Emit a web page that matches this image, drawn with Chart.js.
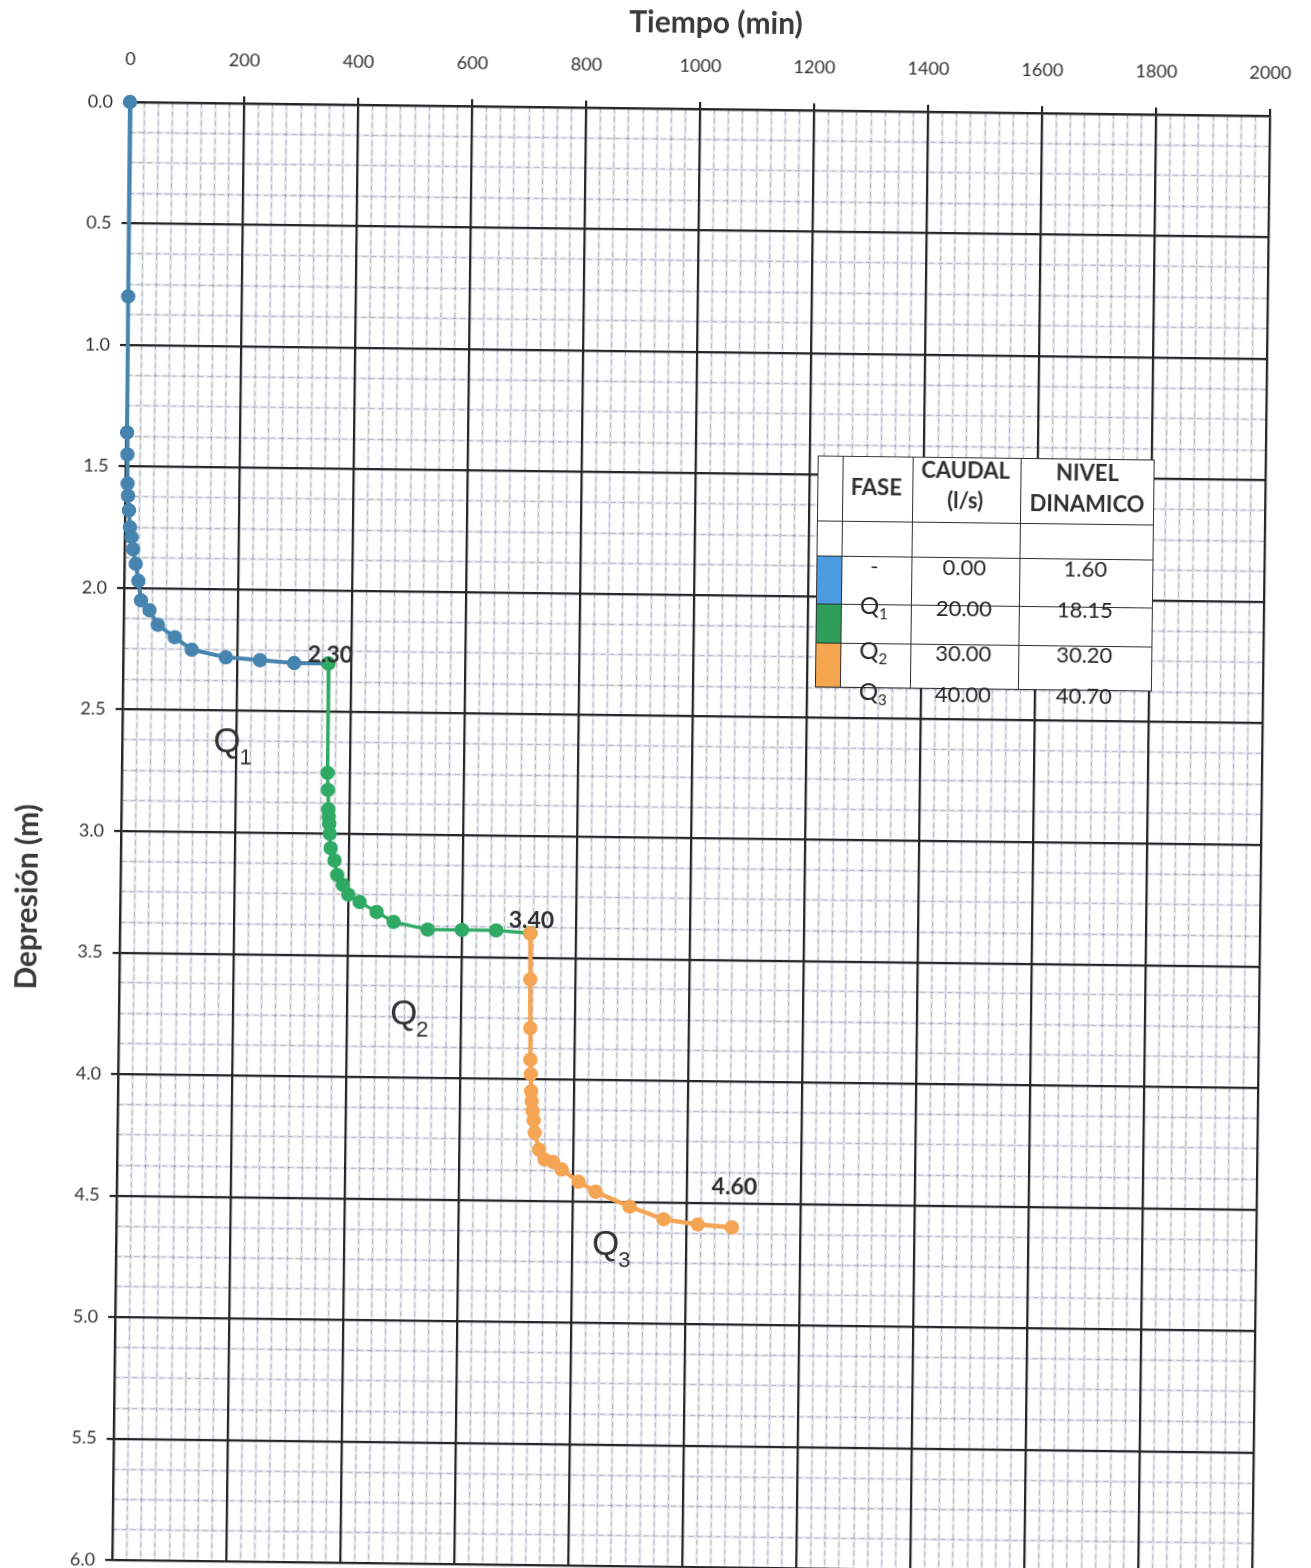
<!DOCTYPE html>
<html lang="es">
<head>
<meta charset="utf-8">
<title>Prueba de bombeo escalonada - Depresión vs Tiempo</title>
<script src="https://cdn.jsdelivr.net/npm/chart.js@4.4.1/dist/chart.umd.min.js"></script>
<style>
  html, body { margin: 0; padding: 0; background: #fff; overflow: hidden; }
  /* the sheet sits slightly tilted, as on the scanned graph paper */
  #hoja { position: relative; width: 1311px; height: 1568px; transform: rotate(0.7deg); transform-origin: 130px 102px; }
  #grafico { position: absolute; left: 0; top: 0; }
  #tabla { position: absolute; left: 822px; top: 447px; width: 337px; height: 232px; background: #fff;
           font-family: Lato, "Open Sans", sans-serif; color: #262626; }
  #tabla .lh { position: absolute; left: 0; width: 337px; height: 0; border-top: 1.6px solid #2f2f2f; }
  #tabla .lv { position: absolute; top: 0; height: 232px; width: 0; border-left: 1.6px solid #2f2f2f; }
  #tabla .txt { position: absolute; transform: translate(-50%, -50%); white-space: nowrap; font-size: 22px; line-height: 1; }
  #tabla .cab { font-weight: bold; color: #303030; }
  #tabla .sw { position: absolute; }
  #tabla .sub { font-size: 15px; vertical-align: -5px; }
</style>
</head>
<body>
<div id="hoja">
  <canvas id="grafico" width="1311" height="1568"></canvas>
  <div id="tabla"></div>
</div>
<script>
// ---- pumping-test readings: time (min) and drawdown (m) per phase ----
const tiempoQ1 = [0, 1, 2, 3, 4, 5, 7, 9, 12, 15, 20, 25, 30, 45, 60, 90, 120, 180, 240, 300, 360];
const depresionQ1 = [0.00, 0.80, 1.36, 1.45, 1.57, 1.62, 1.68, 1.75, 1.79, 1.84, 1.90, 1.97, 2.05, 2.09, 2.15, 2.20, 2.25, 2.28, 2.29, 2.30, 2.30];

const tiempoQ2 = [360, 361, 362, 363, 364, 365, 366, 368, 375, 380, 390, 400, 420, 450, 480, 540, 600, 660, 720];
const depresionQ2 = [2.30, 2.75, 2.82, 2.90, 2.93, 2.96, 3.00, 3.06, 3.11, 3.17, 3.21, 3.25, 3.28, 3.32, 3.36, 3.39, 3.39, 3.39, 3.40];

const tiempoQ3 = [720, 721, 722, 723, 724, 725, 726, 728, 730, 732, 740, 750, 765, 780, 810, 840, 900, 960, 1020, 1080];
const depresionQ3 = [3.40, 3.59, 3.79, 3.92, 3.98, 4.05, 4.09, 4.13, 4.17, 4.22, 4.29, 4.33, 4.34, 4.37, 4.42, 4.46, 4.52, 4.57, 4.59, 4.60];

// axis tick labels
const marcasTiempo = [0, 200, 400, 600, 800, 1000, 1200, 1400, 1600, 1800, 2000];
const marcasDepresion = [0, 0.5, 1.0, 1.5, 2.0, 2.5, 3.0, 3.5, 4.0, 4.5, 5.0, 5.5, 6.0];

// summary table
const fases = ['-', 'Q1', 'Q2', 'Q3'];
const caudales = [0.00, 20.00, 30.00, 40.00];
const nivelesDinamicos = [1.60, 18.15, 30.20, 40.70];

const tituloX = 'Tiempo (min)';
const tituloY = 'Depresión (m)';

// ---- styles ----
const colorQ1 = '#4684AF';
const colorQ2 = '#2FA963';
const colorQ3 = '#F4A452';
const coloresTabla = ['#4C9BE0', '#2F9E5A', '#F5A64E'];
const colorTexto = '#333333';
const colorMalla = '#262626';

Chart.defaults.font.family = 'Lato, "Open Sans", sans-serif';
Chart.defaults.color = colorTexto;

function puntos(t, d) {
  return t.map((v, i) => ({ x: v, y: d[i] }));
}

function serie(nombre, t, d, color, ancho, orden) {
  return {
    label: nombre,
    data: puntos(t, d),
    showLine: true,
    borderColor: color,
    backgroundColor: color,
    borderWidth: ancho,
    pointRadius: 6.6,
    pointHoverRadius: 6.6,
    pointBorderWidth: 1.2,
    pointBackgroundColor: color,
    pointBorderColor: color,
    tension: 0,
    clip: false,
    order: orden
  };
}

// keep the plot frame fixed: no extra room reserved for edge labels
function sinRelleno(s) {
  s.paddingLeft = 0; s.paddingRight = 0; s.paddingTop = 0; s.paddingBottom = 0;
}

// minor graph-paper rulings: a soft printed band plus a faint dashed line
function escalaMenor(eje, paso, capa, estilo) {
  const horizontal = eje === 'x';
  return {
    type: 'linear',
    position: horizontal ? 'top' : 'left',
    reverse: !horizontal,
    min: 0,
    max: horizontal ? 2000 : 6,
    display: true,
    ticks: { display: false, stepSize: paso },
    grid: Object.assign({ drawTicks: false, z: capa }, estilo.grid),
    border: Object.assign({ display: false }, estilo.border || {}),
    title: { display: false },
    afterFit: s => { if (horizontal) s.height = 0; else s.width = 0; sinRelleno(s); }
  };
}

const banda = { grid: { color: 'rgba(192,197,214,0.36)', lineWidth: 3 } };
const trazo = { grid: { color: 'rgba(80,80,85,0.3)', lineWidth: 1 }, border: { dash: [5, 4] } };

// labels drawn on the chart: final drawdown of each phase, phase names, axis titles
const rotulos = {
  id: 'rotulos',
  afterDatasetsDraw(chart, args, opts) {
    const { ctx } = chart;
    const xs = chart.scales.x, ys = chart.scales.y;
    ctx.save();
    ctx.fillStyle = '#2e2e2e';
    ctx.font = 'bold 23px Lato, sans-serif';
    ctx.textAlign = 'center';
    ctx.textBaseline = 'middle';
    chart.data.datasets.forEach((ds, i) => {
      const ultimo = ds.data[ds.data.length - 1];
      const d = opts.desplazamientos[i];
      ctx.fillText(ultimo.y.toFixed(2), xs.getPixelForValue(ultimo.x) + d[0], ys.getPixelForValue(ultimo.y) + d[1]);
    });
    ctx.fillStyle = '#333';
    ctx.textAlign = 'left';
    ctx.textBaseline = 'alphabetic';
    opts.nombres.forEach(n => {
      const px = xs.getPixelForValue(n.x), py = ys.getPixelForValue(n.y);
      ctx.font = '35px "Liberation Sans", Arial, sans-serif';
      ctx.fillText('Q', px, py);
      const w = ctx.measureText('Q').width;
      ctx.font = '22px "Liberation Sans", Arial, sans-serif';
      ctx.fillText(n.sub, px + w - 1, py + 12);
    });
    ctx.restore();
  },
  afterDraw(chart) {
    const { ctx, chartArea } = chart;
    ctx.save();
    ctx.fillStyle = '#3a3a3a';
    ctx.font = 'bold 30px Lato, sans-serif';
    ctx.textAlign = 'center';
    ctx.textBaseline = 'middle';
    ctx.fillText(tituloX, chartArea.left + 585, chartArea.top - 86);
    ctx.translate(chartArea.left - 93, chartArea.top + 796);
    ctx.rotate(-Math.PI / 2);
    ctx.fillText(tituloY, 0, 0);
    ctx.restore();
  }
};

new Chart(document.getElementById('grafico'), {
  type: 'scatter',
  data: {
    datasets: [
      serie('Q1', tiempoQ1, depresionQ1, colorQ1, 4, 3),
      serie('Q2', tiempoQ2, depresionQ2, colorQ2, 3.4, 2),
      serie('Q3', tiempoQ3, depresionQ3, colorQ3, 4.4, 1)
    ]
  },
  options: {
    responsive: false,
    animation: false,
    devicePixelRatio: 1,
    layout: { padding: { left: 0, top: 0, right: 41, bottom: 7 } },
    plugins: {
      legend: { display: false },
      tooltip: { enabled: false },
      title: { display: false },
      rotulos: {
        desplazamientos: [[2, -8], [1, -13], [2, -40]],
        nombres: [
          { x: 160, y: 2.67, sub: '1' },
          { x: 476, y: 3.78, sub: '2' },
          { x: 835, y: 4.72, sub: '3' }
        ]
      }
    },
    scales: {
      xBanda: escalaMenor('x', 25, -4, banda),
      yBanda: escalaMenor('y', 0.125, -4, banda),
      xTrazo: escalaMenor('x', 25, -3, trazo),
      yTrazo: escalaMenor('y', 0.125, -3, trazo),
      x: {
        type: 'linear',
        position: 'top',
        min: 0,
        max: 2000,
        afterBuildTicks: s => { s.ticks = marcasTiempo.map(v => ({ value: v })); },
        afterFit: s => { s.height = 102; sinRelleno(s); },
        grid: { color: colorMalla, lineWidth: 2.2, tickLength: 7, drawTicks: true, z: -1 },
        border: { display: true, color: colorMalla, width: 2.2 },
        ticks: { padding: 25, color: colorTexto, font: { size: 18 }, maxRotation: 0, autoSkip: false, callback: v => String(v) },
        title: { display: false }
      },
      y: {
        type: 'linear',
        position: 'left',
        reverse: true,
        min: 0,
        max: 6,
        afterBuildTicks: s => { s.ticks = marcasDepresion.map(v => ({ value: v })); },
        afterFit: s => { s.width = 130; sinRelleno(s); },
        grid: { color: colorMalla, lineWidth: 2.2, tickLength: 7, drawTicks: true, z: -1 },
        border: { display: true, color: colorMalla, width: 2.2 },
        ticks: { padding: 10, color: colorTexto, font: { size: 18 }, autoSkip: false, callback: v => Number(v).toFixed(1) },
        title: { display: false }
      }
    }
  },
  plugins: [rotulos]
});

// ---- summary table (phase, flow, dynamic level) ----
(function construirTabla() {
  const tabla = document.getElementById('tabla');
  const colX = [0, 25, 95, 203, 336];
  const filaY = [0, 65, 100, 148, 187, 231];
  const textoY = [110, 151, 196, 237];
  const centro = [59, 148, 269];
  let html = '';
  // colour swatches of the phases
  coloresTabla.forEach((c, i) => {
    html += `<div class="sw" style="left:0;top:${filaY[i + 2]}px;width:${colX[1]}px;height:${filaY[i + 3] - filaY[i + 2]}px;background:${c}"></div>`;
  });
  filaY.forEach(y => { html += `<div class="lh" style="top:${y}px"></div>`; });
  colX.forEach(x => { html += `<div class="lv" style="left:${x}px"></div>`; });
  // header
  html += `<div class="txt cab" style="left:${centro[0]}px;top:31px">FASE</div>`;
  html += `<div class="txt cab" style="left:${centro[1]}px;top:13px">CAUDAL</div>`;
  html += `<div class="txt cab" style="left:${centro[1]}px;top:43px">(l/s)</div>`;
  html += `<div class="txt cab" style="left:${centro[2] + 1}px;top:14px">NIVEL</div>`;
  html += `<div class="txt cab" style="left:${centro[2] + 1}px;top:45px">DINAMICO</div>`;
  // rows
  fases.forEach((f, i) => {
    const nombre = f.length > 1 ? `${f[0]}<span class="sub">${f.slice(1)}</span>` : f;
    const tam = f.length > 1 ? 'font-size:24px;' : '';
    html += `<div class="txt" style="${tam}left:${centro[0] - 1}px;top:${textoY[i]}px">${nombre}</div>`;
    html += `<div class="txt" style="left:${centro[1]}px;top:${textoY[i]}px">${caudales[i].toFixed(2)}</div>`;
    html += `<div class="txt" style="left:${centro[2]}px;top:${textoY[i]}px">${nivelesDinamicos[i].toFixed(2)}</div>`;
  });
  tabla.innerHTML = html;
})();
</script>
</body>
</html>
